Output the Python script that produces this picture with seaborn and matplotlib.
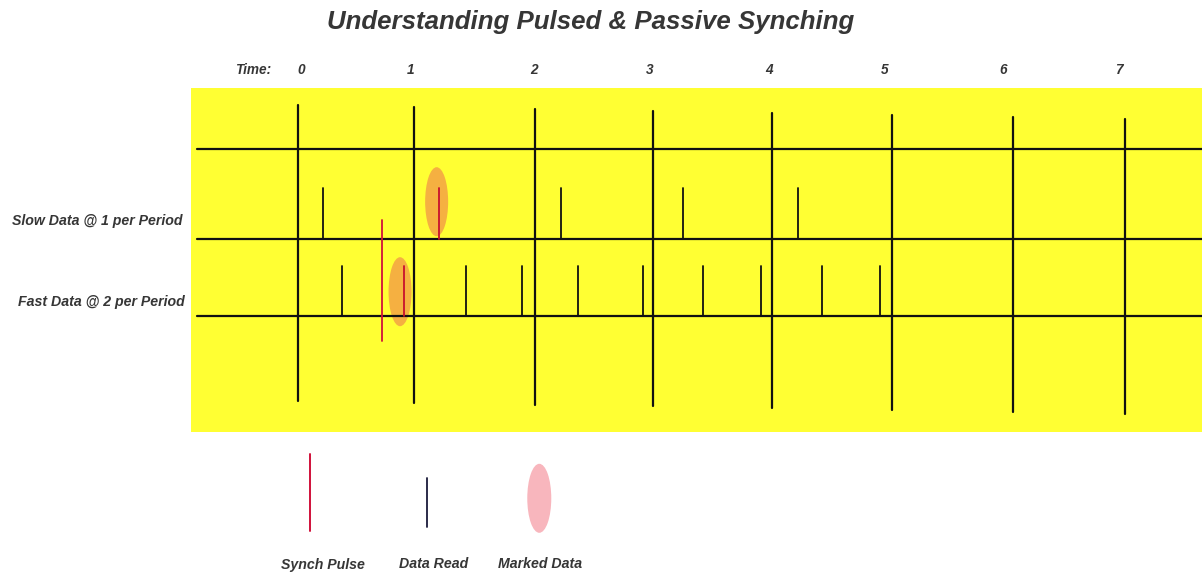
import pandas as pd
import numpy as np
import matplotlib
matplotlib.use('Agg')
import matplotlib.pyplot as plt
from matplotlib.patches import Ellipse, Rectangle
import seaborn as sns

# time values (1 unit = one period)
period_times = [0, 0.98, 2.01, 3.01, 4.01, 5.03, 6.05, 7.0]
period_labels = ['0', '1', '2', '3', '4', '5', '6', '7']
label_times = [0.03, 0.95, 2.0, 2.98, 3.99, 4.97, 5.97, 6.95]
slow_reads = [0.21, 1.19, 2.23, 3.26, 4.23]
fast_reads = [0.37, 0.90, 1.42, 1.90, 2.37, 2.92, 3.43, 3.92, 4.44, 4.93]
synch_pulse = [0.71]
marked_slow = [1.19]
marked_fast = [0.90]
marked_slow_center = [1.174]
marked_fast_center = [0.864]

title = 'Understanding Pulsed & Passive Synching'
row_labels = ['Slow Data @ 1 per Period', 'Fast Data @ 2 per Period']
legend_labels = ['Synch Pulse', 'Data Read', 'Marked Data']

# layout (figure is 1202x574 px, y runs downward in px-like units)
PX = 118.1
X0 = 298
W, H = 1202, 574
TOP, MID, LOW = 148.5, 239, 315.5
LEFT_T = (197 - X0) / PX
RIGHT_T = (W - X0) / PX

sns.set_theme(style='white')
plt.rcParams['font.family'] = ['Liberation Sans', 'DejaVu Sans']

fig = plt.figure(figsize=(W / 100, H / 100), dpi=100)
ax = fig.add_axes([0, 0, 1, 1])
ax.set_xlim(-X0 / PX, RIGHT_T)
ax.set_ylim(H, 0)
ax.axis('off')

ax.add_patch(Rectangle(((191 - X0) / PX, 88), RIGHT_T - (191 - X0) / PX + 1, 344,
                       facecolor='#ffff33', edgecolor='none', zorder=0))

# marked data ellipses
for c, yc in [(marked_slow_center[0], 201.7), (marked_fast_center[0], 291.7)]:
    ax.add_patch(Ellipse((c, yc), 23 / PX, 69, facecolor='#f5b041',
                         edgecolor='none', zorder=1))

rows = []
seg = 0
def add(kind, t0, y0, t1, y1):
    global seg
    rows.append(dict(seg=seg, kind=kind, t=t0, y=y0))
    rows.append(dict(seg=seg, kind=kind, t=t1, y=y1))
    seg += 1

for y in [TOP, MID, LOW]:
    add('axis', LEFT_T, y, RIGHT_T + 0.1, y)
for t in period_times:
    add('axis', t, 105 + 2 * t, t, 401 + 1.8 * t)
for t in slow_reads:
    add('marked' if t in marked_slow else 'read', t, 188, t, MID)
for t in fast_reads:
    add('marked' if t in marked_fast else 'read', t, 266, t, LOW)
for t in synch_pulse:
    add('synch', t, 220, t, 341)

df = pd.DataFrame(rows)
pal = {'axis': '#111111', 'read': '#111111', 'marked': '#c8102e', 'synch': '#d0103a'}
sns.lineplot(data=df[df.kind == 'axis'], x='t', y='y', units='seg', hue='kind',
             estimator=None, sort=False, palette=pal, legend=False, lw=1.6, ax=ax, zorder=2)
sns.lineplot(data=df[df.kind != 'axis'], x='t', y='y', units='seg', hue='kind',
             estimator=None, sort=False, palette=pal, legend=False, lw=1.3, ax=ax, zorder=3)

# texts
txt = dict(fontweight='bold', fontstyle='italic', color='#363636')
ax.text((591 - X0) / PX, 22, title, ha='center', va='center', fontsize=18.6, **txt)
ax.text((253 - X0) / PX, 69.5, 'Time:', ha='center', va='center', fontsize=9.8, **txt)
for t, lab in zip(label_times, period_labels):
    ax.text(t, 69.5, lab, ha='center', va='center', fontsize=9.8, **txt)
ax.text((183 - X0) / PX, 221.5, row_labels[0], ha='right', va='center', fontsize=10.2, **txt)
ax.text((185 - X0) / PX, 302, row_labels[1], ha='right', va='center', fontsize=10.2, **txt)

# legend
ax.plot([0.104, 0.104], [454, 531], color='#d0103a', lw=1.4)
ax.plot([1.095, 1.095], [478, 527], color='#1a1a3a', lw=1.3)
ax.add_patch(Ellipse((2.043, 498.3), 24 / PX, 69, facecolor='#f8b6bd', edgecolor='none'))
for t, lab in zip([0.214, 1.149, 2.049], legend_labels):
    ax.text(t, 564.5, lab, ha='center', va='center', fontsize=10.2, **txt)

fig.savefig('out.png', dpi=100, facecolor='white')
